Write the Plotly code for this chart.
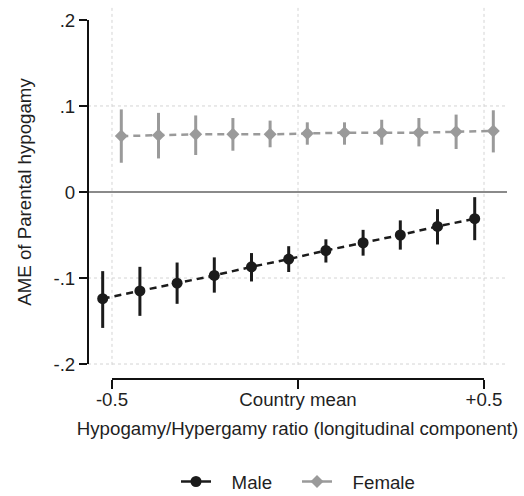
import plotly.graph_objects as go

# ---- data ----
x_vals = [-0.5, -0.4, -0.3, -0.2, -0.1, 0.0, 0.1, 0.2, 0.3, 0.4, 0.5]
x_tickvals = [-0.5, 0.0, 0.5]
x_ticktext = ["-0.5", "Country mean", "+0.5"]
y_tickvals = [-0.2, -0.1, 0.0, 0.1, 0.2]
y_ticktext = ["-.2", "-.1", "0", ".1", ".2"]

male = [-0.124, -0.115, -0.106, -0.097, -0.087, -0.078, -0.068, -0.059, -0.050, -0.040, -0.031]
male_lo = [-0.158, -0.144, -0.130, -0.117, -0.104, -0.093, -0.082, -0.074, -0.067, -0.061, -0.056]
male_hi = [-0.092, -0.087, -0.082, -0.076, -0.071, -0.063, -0.055, -0.044, -0.033, -0.020, -0.006]

female = [0.065, 0.066, 0.067, 0.067, 0.067, 0.068, 0.069, 0.069, 0.069, 0.070, 0.071]
female_lo = [0.034, 0.039, 0.043, 0.048, 0.052, 0.055, 0.055, 0.055, 0.053, 0.050, 0.046]
female_hi = [0.096, 0.092, 0.089, 0.086, 0.083, 0.081, 0.081, 0.084, 0.086, 0.090, 0.095]

# ---- styling ----
DODGE = 0.025
FONT = "Liberation Sans, Arial, sans-serif"
FS = 18.7
MALE_C = "#1b1b1b"
FEM_C = "#9a9a9a"
TXT_C = "#1f1f1f"
PAD = "\u00a0\u00a0\u00a0"  # gap between legend key and its label

fig = go.Figure()

def add_series(name, est, lo, hi, color, symbol, size, offset, lw):
    xs = [x + offset for x in x_vals]
    fig.add_trace(go.Scatter(
        x=xs, y=est, name=name, mode="lines+markers", showlegend=False, legendgroup=name,
        line=dict(color=color, width=2.5, dash="7px,5px"),
        marker=dict(color=color, symbol=symbol, size=size),
        error_y=dict(type="data", symmetric=False,
                     array=[h - e for h, e in zip(hi, est)],
                     arrayminus=[e - l for e, l in zip(est, lo)],
                     color=color, thickness=3, width=0),
    ))
    # legend key (solid line, as in the reference legend)
    fig.add_trace(go.Scatter(
        x=[None], y=[None], name=PAD + name, mode="lines+markers", legendgroup=name,
        legendwidth=lw,
        line=dict(color=color, width=2.5),
        marker=dict(color=color, symbol=symbol, size=size),
    ))

add_series("Male", male, male_lo, male_hi, MALE_C, "circle", 11, -DODGE, 76)
add_series("Female", female, female_lo, female_hi, FEM_C, "diamond", 10, DODGE, 77)

YR = [-0.2174, 0.2174]
shapes = []
# vertical dotted grid
for xv in x_tickvals:
    shapes.append(dict(type="line", xref="x", yref="y", x0=xv, x1=xv, y0=-0.201, y1=YR[1],
                       line=dict(color="#d4d4d4", width=1, dash="dot"), layer="below"))
# horizontal dotted grid (not at 0 or top)
for yv in y_tickvals:
    if yv in (0.0, 0.2):
        continue
    shapes.append(dict(type="line", xref="paper", yref="y", x0=0, x1=1, y0=yv, y1=yv,
                       line=dict(color="#d4d4d4", width=1, dash="dot"), layer="below"))
# zero line
shapes.append(dict(type="line", xref="paper", yref="y", x0=0, x1=1, y0=0, y1=0,
                   line=dict(color="#8a8a8a", width=2), layer="below"))
# y axis line
shapes.append(dict(type="line", xref="paper", yref="y", x0=0, x1=0,
                   y0=min(y_tickvals), y1=max(y_tickvals), line=dict(color="#111", width=2)))
# x axis line
shapes.append(dict(type="line", xref="x", yref="paper", x0=min(x_tickvals), x1=max(x_tickvals),
                   y0=0, y1=0, line=dict(color="#111", width=2)))

fig.update_layout(
    width=524, height=496,
    margin=dict(l=88, r=17, t=5, b=117, autoexpand=False),
    paper_bgcolor="white", plot_bgcolor="white",
    font=dict(family=FONT, size=FS, color=TXT_C),
    shapes=shapes,
    showlegend=True,
    legend=dict(orientation="h", x=0.5, xanchor="center", y=-0.275, yanchor="middle",
                font=dict(size=FS, color=TXT_C), itemwidth=30, groupclick="toggleitem"),
    xaxis=dict(range=[-0.5645, 0.5618], tickvals=x_tickvals, ticktext=x_ticktext,
               showgrid=False, zeroline=False, showline=False, automargin=False,
               ticks="outside", ticklen=9, tickwidth=2, tickcolor="#111",
               ticklabelstandoff=-5,
               tickfont=dict(size=FS, color=TXT_C),
               title=dict(text="Hypogamy/Hypergamy ratio (longitudinal component)", standoff=12,
                          font=dict(size=FS, color=TXT_C))),
    yaxis=dict(range=YR, tickvals=y_tickvals, ticktext=y_ticktext,
               showgrid=False, zeroline=False, showline=False, automargin=False,
               ticks="outside", ticklen=8, tickwidth=2, tickcolor="#111",
               tickfont=dict(size=FS, color=TXT_C),
               title=dict(text="AME of Parental hypogamy", standoff=16,
                          font=dict(size=FS, color=TXT_C))),
)

fig.write_html("out.html")
